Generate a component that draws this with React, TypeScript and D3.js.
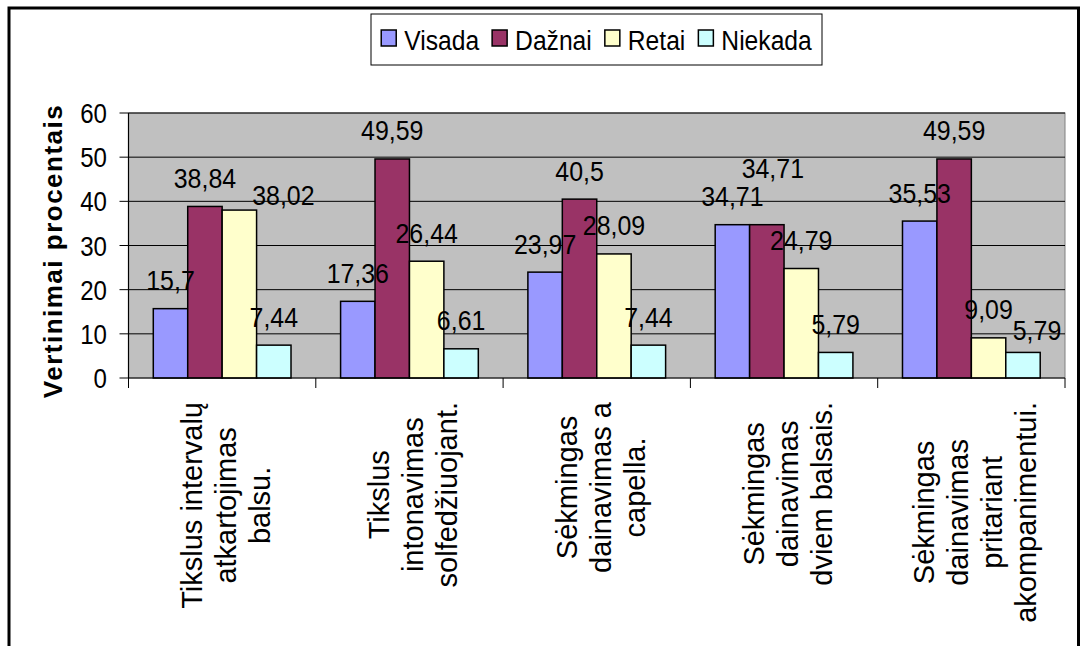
import React, { useEffect, useRef } from "react";
import * as d3 from "d3";

// ---- data ----
const categoryLines: string[][] = [
  ["Tikslus intervalų", "atkartojimas", "balsu."],
  ["Tikslus", "intonavimas", "solfedžiuojant."],
  ["Sėkmingas", "dainavimas a", "capella."],
  ["Sėkmingas", "dainavimas", "dviem balsais."],
  ["Sėkmingas", "dainavimas", "pritariant", "akompanimentui."],
];
const seriesNames = ["Visada", "Dažnai", "Retai", "Niekada"];
const visada = [15.7, 17.36, 23.97, 34.71, 35.53];
const daznai = [38.84, 49.59, 40.5, 34.71, 49.59];
const retai = [38.02, 26.44, 28.09, 24.79, 9.09];
const niekada = [7.44, 6.61, 7.44, 5.79, 5.79];
const seriesValues = [visada, daznai, retai, niekada];
const valueLabels = [
  ["15,7", "17,36", "23,97", "34,71", "35,53"],
  ["38,84", "49,59", "40,5", "34,71", "49,59"],
  ["38,02", "26,44", "28,09", "24,79", "9,09"],
  ["7,44", "6,61", "7,44", "5,79", "5,79"],
];
const yTicks = [0, 10, 20, 30, 40, 50, 60];
const yTitle = "Vertinimai procentais";

// ---- style ----
const colors = ["#9999FF", "#993366", "#FFFFCC", "#CCFFFF"];
const FONT = "'Liberation Sans', Arial, sans-serif";
// label displacement (Excel overlap avoidance), [dx, dy] keyed series-category
const labelNudge: Record<string, [number, number]> = {
  "2-0": [44, 13],
  "1-3": [6, -28],
  "3-4": [14, 6],
};

export default function App() {
  const ref = useRef<SVGSVGElement | null>(null);

  useEffect(() => {
    const svg = d3.select(ref.current!);
    svg.selectAll("*").remove();

    const W = 1082,
      H = 646;
    const left = 128.5,
      right = 1065,
      top = 113,
      bottom = 378;

    svg.append("rect").attr("width", W).attr("height", H).attr("fill", "#fff");

    const x = d3
      .scaleBand<number>()
      .domain(d3.range(categoryLines.length))
      .range([left, right]);
    const xs = d3
      .scaleBand<number>()
      .domain(d3.range(seriesNames.length))
      .range([0, x.bandwidth()])
      .paddingOuter(0.72);
    const y = d3.scaleLinear().domain([0, 60]).range([bottom, top]);

    // plot area
    svg
      .append("rect")
      .attr("x", left)
      .attr("y", top)
      .attr("width", right - left)
      .attr("height", bottom - top)
      .attr("fill", "#C0C0C0")
      .attr("stroke", "#808080")
      .attr("stroke-width", 1);

    // gridlines
    svg
      .append("g")
      .selectAll("line")
      .data(yTicks.filter((t) => t > 0))
      .join("line")
      .attr("x1", left)
      .attr("x2", right)
      .attr("y1", (d) => y(d))
      .attr("y2", (d) => y(d))
      .attr("stroke", "#000")
      .attr("stroke-width", 1);

    // bars
    seriesValues.forEach((vals, si) => {
      svg
        .append("g")
        .selectAll("rect")
        .data(vals)
        .join("rect")
        .attr("x", (_, ci) => (x(ci) as number) + (xs(si) as number))
        .attr("y", (d) => y(d))
        .attr("width", xs.bandwidth())
        .attr("height", (d) => bottom - y(d))
        .attr("fill", colors[si])
        .attr("stroke", "#000")
        .attr("stroke-width", 1.5);
    });

    // axes lines
    svg
      .append("line")
      .attr("x1", left)
      .attr("x2", left)
      .attr("y1", top)
      .attr("y2", bottom)
      .attr("stroke", "#000")
      .attr("stroke-width", 1.2);
    svg
      .append("line")
      .attr("x1", left)
      .attr("x2", right)
      .attr("y1", bottom)
      .attr("y2", bottom)
      .attr("stroke", "#000")
      .attr("stroke-width", 1.2);

    // y ticks
    const yt = svg.append("g");
    yt.selectAll("line")
      .data(yTicks)
      .join("line")
      .attr("x1", left - 9)
      .attr("x2", left)
      .attr("y1", (d) => y(d))
      .attr("y2", (d) => y(d))
      .attr("stroke", "#000");
    yt.selectAll("text")
      .data(yTicks)
      .join("text")
      .attr("transform", (d) => `translate(107,${y(d) + 10}) scale(0.86,1)`)
      .attr("text-anchor", "end")
      .attr("font-family", FONT)
      .attr("font-size", 28)
      .attr("fill", "#000")
      .text((d) => String(d));

    // x ticks
    svg
      .append("g")
      .selectAll("line")
      .data(d3.range(categoryLines.length + 1))
      .join("line")
      .attr("x1", (d) => left + d * x.step())
      .attr("x2", (d) => left + d * x.step())
      .attr("y1", bottom)
      .attr("y2", bottom + 10)
      .attr("stroke", "#000");

    // value labels
    seriesValues.forEach((vals, si) => {
      vals.forEach((v, ci) => {
        const nudge = labelNudge[`${si}-${ci}`] || [0, 0];
        const cx = (x(ci) as number) + (xs(si) as number) + xs.bandwidth() / 2 + nudge[0];
        const by = y(v) - 18.5 + nudge[1];
        svg
          .append("text")
          .attr("transform", `translate(${cx},${by}) scale(0.89,1)`)
          .attr("text-anchor", "middle")
          .attr("font-family", FONT)
          .attr("font-size", 28)
          .attr("fill", "#000")
          .text(valueLabels[si][ci]);
      });
    });

    // category labels
    const lineGap = 34;
    categoryLines.forEach((lines, ci) => {
      const g = svg.append("g");
      const center = (x(ci) as number) + x.bandwidth() / 2;
      const n = lines.length;
      const texts = lines.map((ln) =>
        g
          .append("text")
          .attr("font-family", FONT)
          .attr("font-size", 29)
          .attr("text-anchor", "middle")
          .attr("fill", "#000")
          .text(ln)
      );
      const maxLen = d3.max(texts, (t) => (t.node() as SVGTextElement).getComputedTextLength()) || 0;
      const cy = 402 + maxLen / 2;
      texts.forEach((t, i) => {
        const bx = center + 14 + (i - (n - 1) / 2) * lineGap;
        t.attr("transform", `translate(${bx},${cy}) rotate(-90)`);
      });
    });

    // y title
    svg
      .append("text")
      .attr("transform", `translate(62,251) rotate(-90)`)
      .attr("text-anchor", "middle")
      .attr("font-family", FONT)
      .attr("font-weight", "bold")
      .attr("font-size", 26)
      .attr("letter-spacing", 1.5)
      .attr("fill", "#000")
      .text(yTitle);

    // legend
    const lg = svg.append("g");
    lg.append("rect")
      .attr("x", 371)
      .attr("y", 14)
      .attr("width", 451)
      .attr("height", 51)
      .attr("fill", "#fff")
      .attr("stroke", "#000")
      .attr("stroke-width", 1);
    const sx = 0.88;
    const items = seriesNames.map((name, i) => {
      const sw = lg
        .append("rect")
        .attr("width", 15)
        .attr("height", 16)
        .attr("y", 30)
        .attr("fill", colors[i])
        .attr("stroke", "#000")
        .attr("stroke-width", 1.5);
      const tx = lg
        .append("text")
        .attr("font-family", FONT)
        .attr("font-size", 28)
        .attr("fill", "#000")
        .text(name);
      const w = (tx.node() as SVGTextElement).getComputedTextLength() * sx;
      return { sw, tx, w };
    });
    const swW = 15,
      gapT = 8,
      gapI = 13;
    const total =
      d3.sum(items, (it) => swW + gapT + it.w) + gapI * (items.length - 1);
    let cur = 371 + (451 - total) / 2;
    items.forEach((it) => {
      it.sw.attr("x", cur);
      it.tx.attr("transform", `translate(${cur + swW + gapT},50) scale(${sx},1)`);
      cur += swW + gapT + it.w + gapI;
    });

    // outer border
    svg
      .append("rect")
      .attr("x", 9)
      .attr("y", 8)
      .attr("width", 1078.5 - 9)
      .attr("height", 660)
      .attr("fill", "none")
      .attr("stroke", "#000")
      .attr("stroke-width", 3);
  }, []);

  return (
    <svg
      ref={ref}
      width={1082}
      height={646}
      style={{ position: "absolute", left: 0, top: 0, display: "block" }}
    />
  );
}
